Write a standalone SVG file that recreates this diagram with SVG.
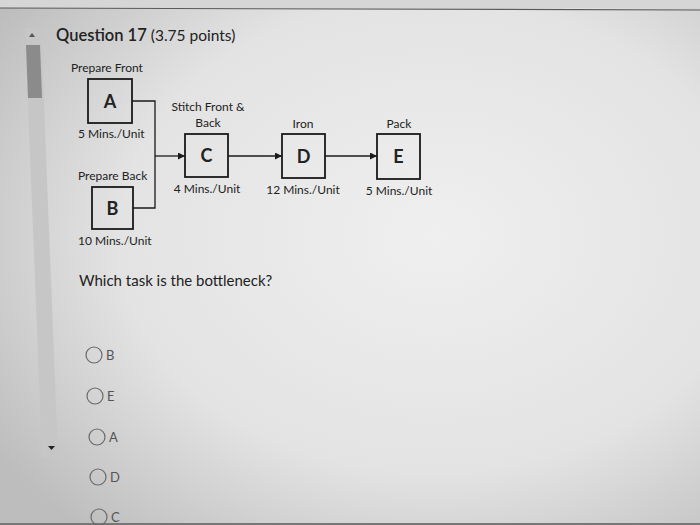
<svg xmlns="http://www.w3.org/2000/svg" width="700" height="525" viewBox="0 0 700 525">
<defs>
  <radialGradient id="bg" cx="0.62" cy="0.45" r="0.75">
    <stop offset="0" stop-color="#efefef"/>
    <stop offset="0.6" stop-color="#e3e3e3"/>
    <stop offset="1" stop-color="#bdbdbd"/>
  </radialGradient>
  <marker id="arr" viewBox="0 0 10 10" refX="10" refY="5" markerWidth="7" markerHeight="7" markerUnits="userSpaceOnUse" orient="auto">
    <path d="M0,0 L10,5 L0,10 z" fill="#1a1a1a"/>
  </marker>
  <style>
    .t{font-family:Lato,"Open Sans",sans-serif;fill:#222}
    .lbl{font-size:12px}
    .ctr{text-anchor:middle}
    .box{fill:none;stroke:#1a1a1a;stroke-width:1.8}
    .letter{font-size:18px;font-weight:bold;text-anchor:middle}
    .wire{fill:none;stroke:#1a1a1a;stroke-width:1.3}
    .opt circle{fill:none;stroke:#6a6a6a;stroke-width:1.2}
    .opt text{font-family:Lato,"Open Sans",sans-serif;font-size:13px;fill:#555}
  </style>
</defs>
<rect width="700" height="525" fill="url(#bg)"/>
<!-- top border line -->
<rect x="0" y="0" width="700" height="8" fill="#d6d6d6"/>
<line x1="0" y1="8" x2="700" y2="10" stroke="#5a5a5a" stroke-width="1.2"/>
<!-- scrollbar -->
<polygon points="25,28 41,28 58,458 42,458" fill="#c6c6c6"/>
<polygon points="26,45 40,45 42,98 28,98" fill="#8b8b8b"/>
<path d="M29,37 L35,37 L32,33 z" fill="#555"/>
<path d="M48,446 L55,446 L51.5,450 z" fill="#222"/>
<!-- bottom edge -->
<rect x="0" y="523" width="700" height="2" fill="#777"/>

<text class="t" x="56" y="41" font-size="16.5" font-weight="600">Question 17 <tspan font-weight="normal" font-size="15.5">(3.75 points)</tspan></text>

<g id="connectors">
  <polyline class="wire" points="132,101 155,101 155,208 133,208"/>
  <line class="wire" x1="155" y1="156" x2="185" y2="156" marker-end="url(#arr)"/>
  <line class="wire" x1="228" y1="156" x2="282" y2="156" marker-end="url(#arr)"/>
  <line class="wire" x1="325" y1="156" x2="377" y2="156" marker-end="url(#arr)"/>
</g>

<g id="nodeA">
  <text class="t lbl" x="71" y="72">Prepare Front</text>
  <rect class="box" x="88" y="79" width="44" height="44"/>
  <text class="t letter" x="110" y="107.5">A</text>
  <text class="t lbl" x="78" y="138">5 Mins./Unit</text>
</g>
<g id="nodeB">
  <text class="t lbl" x="78" y="180">Prepare Back</text>
  <rect class="box" x="92" y="187" width="41" height="42"/>
  <text class="t letter" x="112.5" y="214.5">B</text>
  <text class="t lbl" x="78" y="245">10 Mins./Unit</text>
</g>
<g id="nodeC">
  <text class="t lbl ctr" x="208" y="111">Stitch Front &amp;</text>
  <text class="t lbl ctr" x="208" y="127">Back</text>
  <rect class="box" x="185" y="134" width="43" height="43"/>
  <text class="t letter" x="206.5" y="162">C</text>
  <text class="t lbl ctr" x="207" y="193">4 Mins./Unit</text>
</g>
<g id="nodeD">
  <text class="t lbl ctr" x="303" y="128">Iron</text>
  <rect class="box" x="282" y="134" width="43" height="44"/>
  <text class="t letter" x="303.5" y="162.5">D</text>
  <text class="t lbl ctr" x="303" y="194">12 Mins./Unit</text>
</g>
<g id="nodeE">
  <text class="t lbl ctr" x="399" y="128">Pack</text>
  <rect class="box" x="377" y="134" width="43" height="45"/>
  <text class="t letter" x="398.5" y="163">E</text>
  <text class="t lbl ctr" x="399" y="195">5 Mins./Unit</text>
</g>

<text class="t" x="79" y="286" font-size="15">Which task is the bottleneck?</text>

<g class="opt" id="options">
  <circle cx="94" cy="355" r="8"/><text x="106" y="359.5">B</text>
  <circle cx="95" cy="396" r="8"/><text x="107" y="400.5">E</text>
  <circle cx="97" cy="437" r="8"/><text x="109" y="441.5">A</text>
  <circle cx="98" cy="477" r="8"/><text x="110" y="481.5">D</text>
  <circle cx="99" cy="517" r="8"/><text x="111" y="521.5">C</text>
</g>
</svg>
